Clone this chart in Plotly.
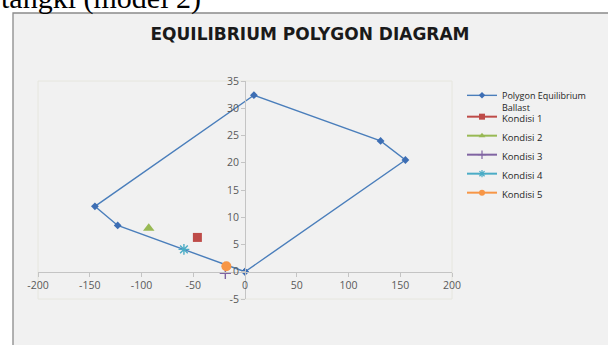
import plotly.graph_objects as go

# Equilibrium polygon (ballast) vertices, closed back to the origin
poly_x = [0, 155, 131, 8.6, -145, -123, 0]
poly_y = [0, 20.5, 24.0, 32.4, 12.0, 8.5, 0]

# Loading conditions
kondisi_names = ["Kondisi 1", "Kondisi 2", "Kondisi 3", "Kondisi 4", "Kondisi 5"]
kondisi_x = [-46, -93, -19, -59, -18]
kondisi_y = [6.3, 8.0, -0.3, 4.1, 1.0]

x_ticks = [-200, -150, -100, -50, 0, 50, 100, 150, 200]
y_ticks = [-5, 0, 5, 10, 15, 20, 25, 30, 35]

W, H = 608, 345
L, R, T, B = 38, 156, 81, 46
X_RANGE = [-200, 200]
Y_RANGE = [-5, 35]


def px_x(px):
    return (px - L) / (W - L - R)


def px_y(py):
    return 1 - (py - T) / (H - T - B)


POLY_COL = "#4a7ebb"
POLY_MARK = "#3d6eb4"
cols = ["#be4b48", "#98b954", "#8064a2", "#4bacc6", "#f79646"]
symbols = ["square", "triangle-up", "cross-thin-open", "asterisk-open", "circle"]
plot_sizes = [9, 10, 8, 9, 10]
legend_sizes = [6, 6, 6, 6, 6]

fig = go.Figure()

# data traces (legend entries are drawn separately with smaller symbols)
fig.add_trace(go.Scatter(
    x=poly_x, y=poly_y, mode="lines+markers", showlegend=False,
    name="Polygon Equilibrium Ballast",
    line=dict(color=POLY_COL, width=1.4),
    marker=dict(symbol="diamond", size=6, color=POLY_MARK),
))
for name, kx, ky, c, s, sz in zip(kondisi_names, kondisi_x, kondisi_y, cols, symbols, plot_sizes):
    mk = dict(color=c, symbol=s, size=sz)
    if s.endswith("open"):
        mk["line"] = dict(width=1.4, color=c if s.startswith("asterisk") else "#8fa6d8")
    fig.add_trace(go.Scatter(x=[kx], y=[ky], mode="markers", name=name,
                             showlegend=False, marker=mk))

# legend entries
fig.add_trace(go.Scatter(
    x=[None], y=[None], mode="lines+markers", legend="legend",
    name="Polygon Equilibrium<br>Ballast",
    line=dict(color=POLY_COL, width=1.4),
    marker=dict(symbol="diamond", size=5, color=POLY_MARK),
))
for name, c, s, sz in zip(kondisi_names, cols, symbols, legend_sizes):
    mk = dict(color=c, symbol=s, size=sz)
    if s.endswith("open"):
        mk["line"] = dict(width=1.2, color=c)
    fig.add_trace(go.Scatter(x=[None], y=[None], mode="lines+markers", name=name,
                             legend="legend2", line=dict(color=c, width=2), marker=mk))

# Axes cross at the origin, as in the spreadsheet chart
x_cross = (0 - Y_RANGE[0]) / (Y_RANGE[1] - Y_RANGE[0])
y_cross = (0 - X_RANGE[0]) / (X_RANGE[1] - X_RANGE[0])

tick_font = dict(family="Open Sans", size=10.5, color="#595959")
fig.update_xaxes(
    range=X_RANGE, tickvals=x_ticks, ticktext=[str(v) for v in x_ticks],
    anchor="free", position=x_cross,
    showgrid=False, zeroline=False, showline=True, linecolor="#c4c4c4", linewidth=1,
    ticks="outside", ticklen=4, tickcolor="#c4c4c4", tickfont=tick_font,
)
fig.update_yaxes(
    range=Y_RANGE, tickvals=y_ticks, ticktext=[str(v) for v in y_ticks],
    anchor="free", position=y_cross,
    showgrid=False, zeroline=False, showline=True, linecolor="#c4c4c4", linewidth=1,
    ticks="outside", ticklen=4, tickcolor="#c4c4c4", tickfont=tick_font,
)

shapes = [
    # grey chart panel with its frame
    dict(type="rect", xref="paper", yref="paper",
         x0=px_x(13), x1=px_x(W + 20), y0=px_y(H + 20), y1=px_y(13),
         fillcolor="#f1f1f1", line=dict(color="#8a8a8a", width=1.3), layer="below"),
    # faint plot-area outline
    dict(type="rect", xref="paper", yref="paper", x0=0, x1=1, y0=0, y1=1,
         line=dict(color="#e6e6de", width=1), layer="below"),
]

annotations = [
    dict(text="tangki (model 2)", xref="paper", yref="paper",
         x=px_x(-1), y=px_y(17), xanchor="left", yanchor="bottom",
         showarrow=False, font=dict(family="Liberation Serif", size=30, color="#000000")),
]

legend_font = dict(family="Open Sans", size=9.5, color="#262626")
fig.update_layout(
    width=W, height=H,
    margin=dict(l=L, r=R, t=T, b=B, autoexpand=False),
    paper_bgcolor="#ffffff", plot_bgcolor="rgba(0,0,0,0)",
    title=dict(text="<b>EQUILIBRIUM POLYGON DIAGRAM</b>",
               x=310 / W, xref="container", xanchor="center",
               y=1 - 34.5 / H, yref="container", yanchor="middle",
               font=dict(family="DejaVu Sans", size=17, color="#1a1a1a")),
    legend=dict(xref="container", yref="container", x=462 / W, y=1 - 83 / H,
                xanchor="left", yanchor="top", valign="top",
                bgcolor="rgba(0,0,0,0)", font=dict(family="Open Sans", size=9, color="#262626"),
                itemwidth=30),
    legend2=dict(xref="container", yref="container", x=462 / W, y=1 - 104 / H,
                 xanchor="left", yanchor="top", valign="top",
                 bgcolor="rgba(0,0,0,0)", font=legend_font, itemwidth=30),
    shapes=shapes, annotations=annotations,
)

fig.write_html("out.html")
